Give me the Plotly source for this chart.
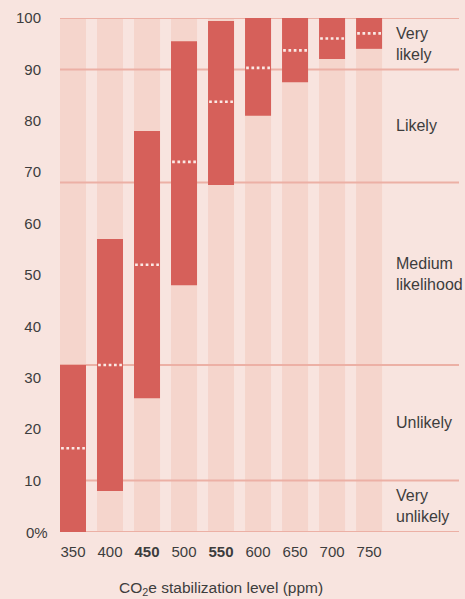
import plotly.graph_objects as go

levels = ["350", "400", "450", "500", "550", "600", "650", "700", "750"]
bold_levels = ["450", "550"]
low = [0, 8, 26, 48, 67.5, 81, 87.5, 92, 94]
high = [32.5, 57, 78, 95.5, 99.4, 100, 100, 100, 100]
median = [16.3, 32.5, 52, 72, 83.7, 90.3, 93.7, 96, 97]
thresholds = [0, 10, 32.5, 68, 90, 100]
zone_labels = ["Very<br>unlikely", "Unlikely", "Medium<br>likelihood", "Likely", "Very<br>likely"]
y_ticks = [10, 20, 30, 40, 50, 60, 70, 80, 90, 100]
y_ticktext = ["10", "20", "30", "40", "50", "60", "70", "80", "90", "100"]

BG = "#f8e4df"
COL = "#f5d5cc"
RED = "#d6605a"
GRID = "#ecb0a5"
TXT = "#3d3d3d"
FONT = "Liberation Sans, Arial, sans-serif"

xpos = list(range(len(levels)))
bw = 0.703
xr = [-0.351, 10.43]

fig = go.Figure()
# column backgrounds (base subplot)
fig.add_trace(go.Bar(x=xpos, y=[100] * len(levels), width=bw, marker=dict(color=COL, line=dict(width=0)),
                     hoverinfo="skip", showlegend=False, xaxis="x", yaxis="y"))
# gridlines at likelihood thresholds (base subplot, above columns)
gx, gy = [], []
for t in thresholds:
    gx += [xr[0], xr[1], None]
    gy += [t, t, None]
fig.add_trace(go.Scatter(x=gx, y=gy, mode="lines", line=dict(color=GRID, width=2),
                         hoverinfo="skip", showlegend=False, xaxis="x", yaxis="y", cliponaxis=False))
# red ranges (overlay subplot)
fig.add_trace(go.Bar(x=xpos, y=[h - l for h, l in zip(high, low)], base=low, width=bw,
                     marker=dict(color=RED, line=dict(width=0)), showlegend=False,
                     xaxis="x", yaxis="y2"))
# medians
mx, my = [], []
for i, m in enumerate(median):
    mx += [i - bw / 2 + 0.03, i + bw / 2 - 0.03, None]
    my += [m, m, None]
fig.add_trace(go.Scatter(x=mx, y=my, mode="lines", line=dict(color="#fbeae6", width=2.6, dash="2.7px,2.6px"),
                         hoverinfo="skip", showlegend=False, xaxis="x", yaxis="y2"))

ticktext = [f"<b>{l}</b>" if l in bold_levels else l for l in levels]

annotations = []
for k, lab in enumerate(zone_labels):
    annotations.append(dict(x=(394 - 60) / 399, xref="paper", y=(thresholds[k] + thresholds[k + 1]) / 2, yref="y",
                            text=lab, showarrow=False, xanchor="left", yanchor="middle", align="left",
                            font=dict(family=FONT, size=16, color=TXT)))
annotations.append(dict(x=(50 - 60) / 399, xref="paper", y=0, yref="y", text="0%", showarrow=False,
                        xanchor="right", yanchor="middle", font=dict(family=FONT, size=15, color=TXT)))
annotations.append(dict(x=4, xref="x", y=-0.11, yref="paper", text="CO<sub>2</sub>e stabilization level (ppm)",
                        showarrow=False, xanchor="center", yanchor="middle",
                        font=dict(family=FONT, size=15.5, color=TXT)))

fig.update_layout(
    width=465, height=599,
    margin=dict(l=60, r=6, t=18, b=67),
    paper_bgcolor=BG, plot_bgcolor=BG,
    barmode="overlay",
    font=dict(family=FONT, color=TXT),
    xaxis=dict(range=xr, tickvals=xpos, ticktext=ticktext, showgrid=False, zeroline=False,
               showline=False, ticks="", tickfont=dict(family=FONT, size=15, color=TXT),
               ticklabelstandoff=9, fixedrange=True),
    yaxis=dict(range=[0, 100], tickvals=y_ticks, ticktext=y_ticktext, showgrid=False, zeroline=False,
               showline=False, ticks="", tickfont=dict(family=FONT, size=15, color=TXT),
               ticklabelstandoff=18, fixedrange=True),
    yaxis2=dict(range=[0, 100], overlaying="y", visible=False, fixedrange=True),
    annotations=annotations,
)

fig.write_html("out.html", config={"displayModeBar": False},
               post_script="document.body.style.margin='0';document.body.style.overflow='hidden';")
